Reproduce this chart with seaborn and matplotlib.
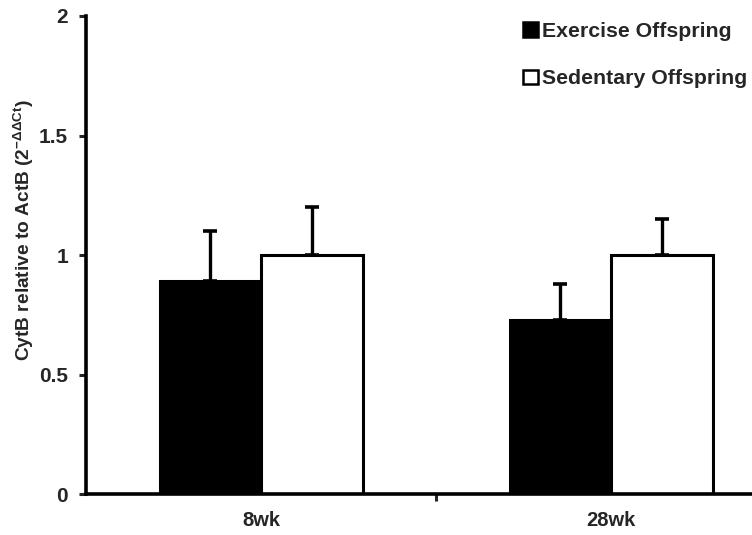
import matplotlib
matplotlib.use("Agg")
import matplotlib.pyplot as plt
import seaborn as sns
import pandas as pd
from matplotlib.ticker import FuncFormatter, FixedLocator
from matplotlib.patches import Patch

# Data
ages = ["8wk", "28wk"]
groups = ["Exercise Offspring", "Sedentary Offspring"]
exercise_mean = [0.89, 0.73]
sedentary_mean = [1.00, 1.00]
exercise_err = [0.21, 0.15]
sedentary_err = [0.20, 0.15]
yticks = [0, 0.5, 1, 1.5, 2]

sns.set_theme(style="white")
plt.rcParams["font.family"] = ["Liberation Sans", "DejaVu Sans"]
plt.rcParams["font.weight"] = "bold"
plt.rcParams["mathtext.fontset"] = "custom"
plt.rcParams["mathtext.rm"] = "Liberation Sans:bold"
plt.rcParams["mathtext.default"] = "regular"

df = pd.DataFrame({
    "age": ages * 2,
    "group": [groups[0]] * 2 + [groups[1]] * 2,
    "value": exercise_mean + sedentary_mean,
    "err": exercise_err + sedentary_err,
})

fig = plt.figure(figsize=(7.52, 5.35), dpi=100)
ax = fig.add_axes([0.1144, 0.0766, 0.931, 0.8935])

palette = {groups[0]: "black", groups[1]: "white"}
sns.barplot(data=df, x="age", y="value", hue="group", order=ages,
            hue_order=groups, palette=palette, errorbar=None,
            width=0.58, edgecolor="black", linewidth=2.2, saturation=1,
            legend=False, ax=ax)

# upward-only error bars on top of each bar
for container, g in zip(ax.containers, groups):
    sub = df[df["group"] == g].set_index("age").loc[ages]
    for bar, (_, row) in zip(container, sub.iterrows()):
        xc = bar.get_x() + bar.get_width() / 2
        ax.errorbar(xc, row["value"], yerr=[[0], [row["err"]]], fmt="none",
                    ecolor="black", elinewidth=2.4, capsize=5, capthick=2.6,
                    zorder=1)

ax.set_xlim(-0.5, 1.5)
ax.set_ylim(0, 2)
ax.set_yticks(yticks)
ax.yaxis.set_major_formatter(FuncFormatter(lambda v, p: f"{v:g}"))
ax.tick_params(axis="y", direction="out", length=5, width=2.2, left=True,
               labelsize=15, pad=8)
ax.tick_params(axis="x", which="major", length=0, labelsize=14.5, pad=12)
ax.xaxis.set_minor_locator(FixedLocator([0.5]))
ax.tick_params(axis="x", which="minor", direction="out", length=5,
               width=2.2, bottom=True)
for lab in ax.get_xticklabels() + ax.get_yticklabels():
    lab.set_fontweight("bold")

for s in ["top", "right"]:
    ax.spines[s].set_visible(False)
for s in ["left", "bottom"]:
    ax.spines[s].set_color("black")
    ax.spines[s].set_linewidth(2.6)

ax.set_xlabel("")
ax.set_ylabel(r"CytB relative to ActB (2$^{\mathregular{-ΔΔCt}}$)",
              fontsize=13.8, fontweight="bold")
ax.yaxis.set_label_coords(-0.071, 0.552)

handles = [Patch(facecolor="black", edgecolor="black", linewidth=1.8),
           Patch(facecolor="white", edgecolor="black", linewidth=1.8)]
leg = fig.legend(handles, groups, loc="upper left",
                 bbox_to_anchor=(0.6955, 0.959), frameon=False,
                 borderaxespad=0, borderpad=0,
                 prop={"family": "Liberation Sans", "weight": "bold", "size": 15.3},
                 handlelength=0.7, handleheight=0.7, handletextpad=0.2,
                 labelspacing=1.34)

fig.savefig("out.png", dpi=100)
